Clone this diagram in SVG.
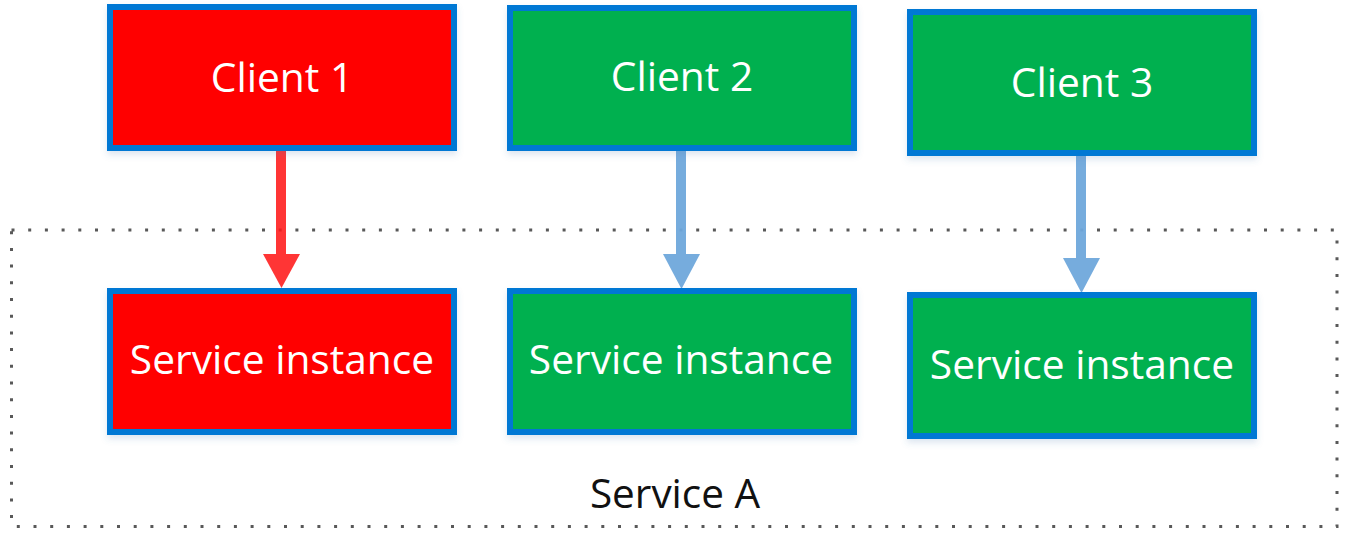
<svg xmlns="http://www.w3.org/2000/svg" width="1351" height="546" viewBox="0 0 1351 546">
<defs>
<filter id="sh" x="-5%" y="-5%" width="110%" height="115%">
<feDropShadow dx="0" dy="4" stdDeviation="3" flood-color="#4a78b0" flood-opacity="0.18"/>
</filter>
</defs>
<style>
.box{stroke:#0078d4;stroke-width:6;filter:url(#sh)}
.red{fill:#ff0000}
.green{fill:#00b050}
.lbl{font-family:"Open Sans","Noto Sans",sans-serif;font-size:40.7px;fill:#ffffff;text-anchor:middle}
.title{font-family:"Open Sans","Noto Sans",sans-serif;font-size:40.5px;fill:#111111;text-anchor:middle}
.frame{fill:none;stroke:#595959;stroke-width:3;stroke-dasharray:3 13.7}
</style>
<g id="serviceA">
<rect class="frame" x="11.5" y="230" width="1325.5" height="296.5"/>
<text class="title" x="675" y="508">Service A</text>
</g>
<g id="connectors">
<g opacity="0.88">
<line x1="281" y1="150" x2="281" y2="256" stroke="#ff1a1a" stroke-width="10" stroke-linecap="round"/>
<path d="M263,254 L300,254 L281.5,288 Z" fill="#ff1a1a"/>
</g>
<g opacity="0.95">
<line x1="681" y1="150" x2="681" y2="256" stroke="#6fa8dc" stroke-width="10" stroke-linecap="round"/>
<path d="M663,254 L700,254 L681.5,289 Z" fill="#6fa8dc"/>
<line x1="1081" y1="155" x2="1081" y2="260" stroke="#6fa8dc" stroke-width="10" stroke-linecap="round"/>
<path d="M1063,258 L1100,258 L1081.5,293 Z" fill="#6fa8dc"/>
</g>
</g>
<g id="client1">
<rect class="box red" x="110" y="7" width="344" height="141"/>
<text class="lbl" x="282" y="92">Client 1</text>
</g>
<g id="client2">
<rect class="box green" x="510" y="8" width="344" height="140"/>
<text class="lbl" x="682" y="91">Client 2</text>
</g>
<g id="client3">
<rect class="box green" x="910" y="12" width="344" height="141"/>
<text class="lbl" x="1082" y="97">Client 3</text>
</g>
<g id="instance1">
<rect class="box red" x="110" y="291" width="344" height="141"/>
<text class="lbl" x="282" y="374">Service instance</text>
</g>
<g id="instance2">
<rect class="box green" x="510" y="291" width="344" height="141"/>
<text class="lbl" x="681" y="374">Service instance</text>
</g>
<g id="instance3">
<rect class="box green" x="910" y="295" width="344" height="141"/>
<text class="lbl" x="1082" y="379">Service instance</text>
</g>
</svg>
